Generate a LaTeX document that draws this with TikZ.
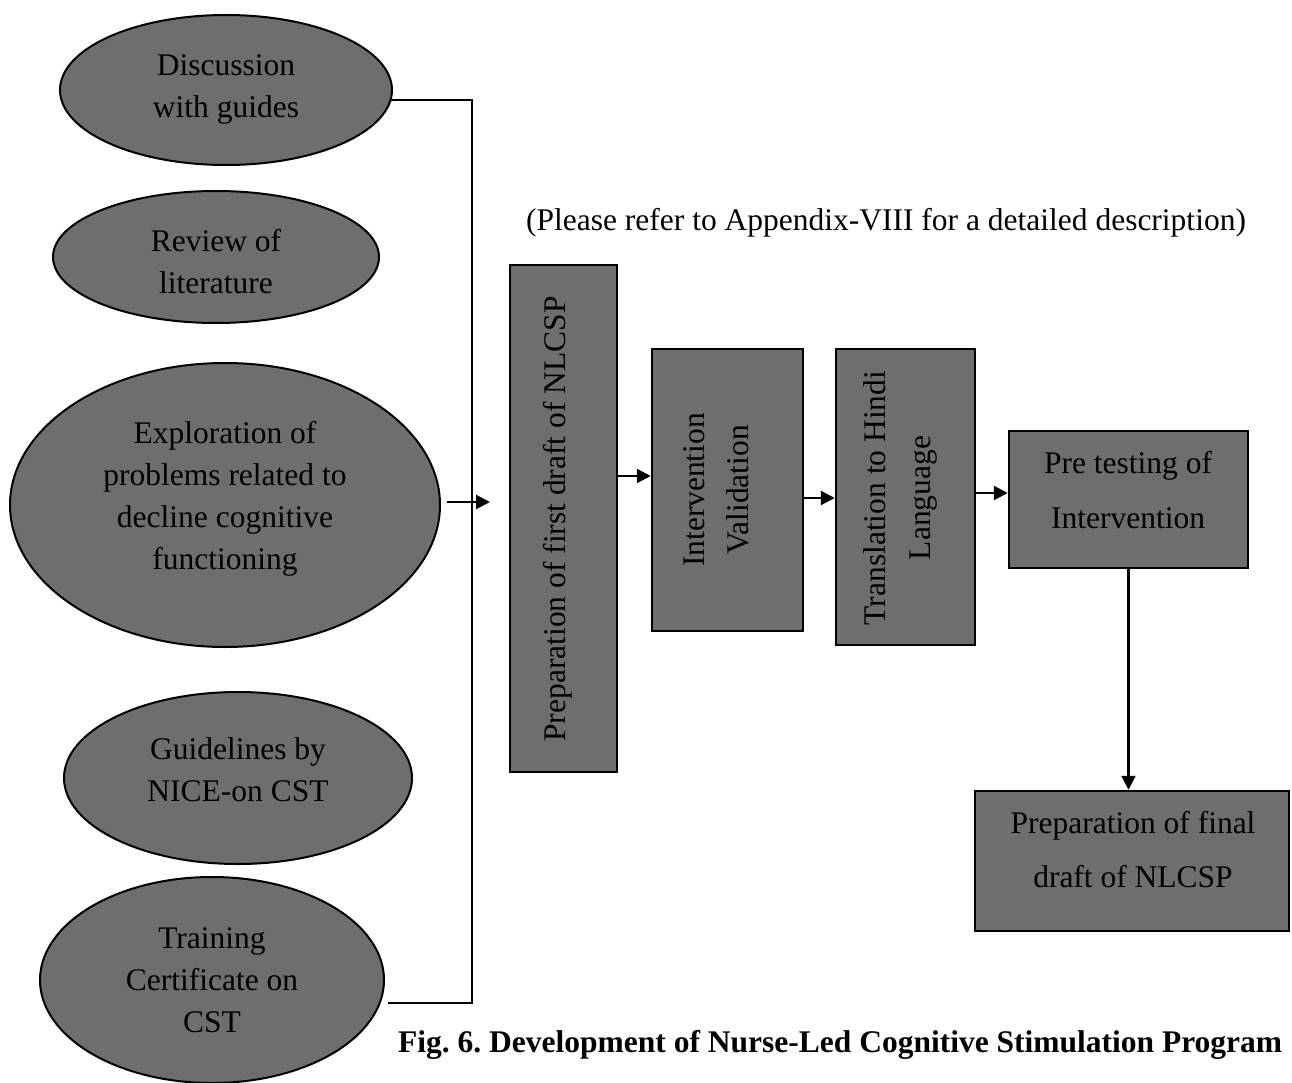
\documentclass[tikz,border=0pt]{standalone}
\usepackage{fontspec}
\setmainfont{Liberation Serif}
\usetikzlibrary{arrows.meta,shapes.geometric}
\definecolor{fillgray}{RGB}{110,110,110}
\frenchspacing
\begin{document}
\begin{tikzpicture}[x=1pt,y=-1pt,
  ell/.style={ellipse, draw=black, line width=2pt, fill=fillgray, inner sep=0pt},
  boxn/.style={rectangle, draw=black, line width=2.5pt, fill=fillgray, inner sep=0pt},
  txt/.style={font=\fontsize{31.5}{42}\selectfont, align=center, inner sep=0pt, text=black},
  arr/.style={line width=2.2pt, -{Triangle[length=14pt,width=14pt]}},
  con/.style={line width=2.2pt}]
\useasboundingbox (0,0) rectangle (1292,1083);

% ellipses
\node[ell, minimum width=332pt, minimum height=150pt] (e1) at (226,90) {};
\node[ell, minimum width=326pt, minimum height=132pt] (e2) at (216,257) {};
\node[ell, minimum width=430pt, minimum height=284pt] (e3) at (225,505) {};
\node[ell, minimum width=348pt, minimum height=172pt] (e4) at (238,778) {};
\node[ell, minimum width=344pt, minimum height=206pt] (e5) at (212,980) {};

\node[txt] (t1) at (226,89) {Discussion\\with guides};
\node[txt] (t2) at (216,262) {Review of\\literature};
\node[txt] (t3) at (225,499) {Exploration of\\problems related to\\decline cognitive\\functioning};
\node[txt] (t4) at (238,770) {Guidelines by\\NICE-on CST};
\node[txt] (t5) at (212,980) {Training\\Certificate on\\CST};

% bracket
\coordinate (br1) at (391,100);
\coordinate (br2) at (388,1003);
\coordinate (brx) at (472,0);
\draw[con] (br1) -- (br1 -| brx) -- (br2 -| brx) -- (br2);
\coordinate (a1) at (447,502);
\coordinate (a2) at (490,502);
\draw[arr] (a1) -- (a2);

% boxes
\node[boxn, minimum width=107pt, minimum height=507pt] (b1) at (563.5,518.5) {};
\node[boxn, minimum width=151pt, minimum height=282pt] (b2) at (727.5,490) {};
\node[boxn, minimum width=139pt, minimum height=296pt] (b3) at (905.5,497) {};
\node[boxn, minimum width=239pt, minimum height=137pt] (b4) at (1128.5,499.5) {};
\node[boxn, minimum width=314pt, minimum height=140pt] (b5) at (1132,861) {};

\node[txt, rotate=90] (tb1) at (558,519) {Preparation of first draft of NLCSP};
\node[txt, rotate=90, font=\fontsize{31.5}{44}\selectfont] (tb2) at (716,490) {Intervention\\Validation};
\node[txt, rotate=90, font=\fontsize{31.5}{45}\selectfont] (tb3) at (900,498) {Translation to Hindi\\Language};
\node[txt, font=\fontsize{31.5}{55}\selectfont] (tb4) at (1128,490) {Pre testing of\\Intervention};
\node[txt, font=\fontsize{31.5}{54}\selectfont] (tb5) at (1133,850) {Preparation of final\\draft of NLCSP};

% connectors
\coordinate (y1) at (0,476);
\coordinate (y2) at (0,498);
\coordinate (y3) at (0,493);
\draw[arr] (b1.east |- y1) -- (b2.west |- y1);
\draw[arr] (b2.east |- y2) -- (b3.west |- y2);
\draw[arr] (b3.east |- y3) -- (b4.west |- y3);
\draw[arr] (b4.south) -- (b4.south |- b5.north);

% texts
\node[txt] (note) at (886,223) {(Please refer to Appendix-VIII for a detailed description)};
\node[txt, anchor=west, font=\fontsize{31.5}{42}\selectfont\bfseries] (cap) at (398,1045) {Fig. 6. Development of Nurse-Led Cognitive Stimulation Program};
\end{tikzpicture}
\end{document}
